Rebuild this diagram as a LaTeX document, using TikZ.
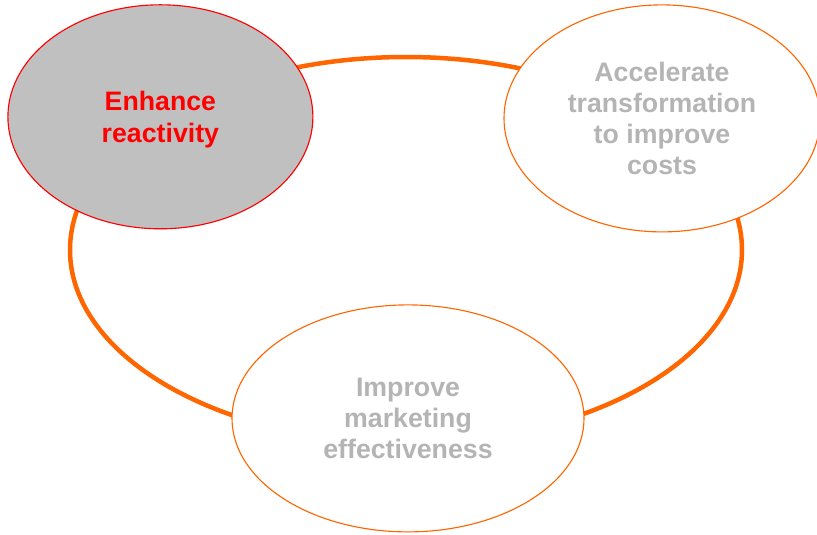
\documentclass[tikz,border=0pt]{standalone}
\usepackage{fontspec}
\setmainfont{Liberation Sans}
\usepackage{xcolor}
\usepackage{tikz}
\usetikzlibrary{shapes.geometric}
\definecolor{red}{rgb}{1.0, 0.0, 0.0}
\definecolor{orangevif}{RGB}{255,102,0}
\definecolor{grisfond}{RGB}{192,192,192}
\definecolor{gristexte}{RGB}{180,180,180}

\begin{document}
\begin{tikzpicture}[
    bulle/.style={ellipse, draw=orangevif, line width=0.8pt, fill=white,
        inner sep=0pt, align=center, text=gristexte, text depth=0pt,
        font=\bfseries\fontsize{19}{22.2}\selectfont}
]
        \useasboundingbox (0,0) rectangle (20.425,13.35);

        % Anneau derriere les bulles
        \node[ellipse, draw=orangevif, line width=3.2pt,
            minimum width=16.8cm, minimum height=9.65cm] (anneau) at (10.15,7.1) {};

        % Bulle active (en haut a gauche)
        \node[bulle, fill=grisfond, draw=red, text=red,
            minimum width=7.625cm, minimum height=5.6cm] (reactivity) at (4.01,10.43) {Enhance\\reactivity};

        % Bulle en haut a droite
        \node[bulle, minimum width=7.9cm, minimum height=5.675cm] (costs) at (16.55,10.39)
            {Accelerate\\transformation\\to improve\\costs};

        % Bulle du bas
        \node[bulle, minimum width=8.8cm, minimum height=5.675cm] (marketing) at (10.2,2.89)
            {Improve\\marketing\\effectiveness};
    \end{tikzpicture}
\end{document}
